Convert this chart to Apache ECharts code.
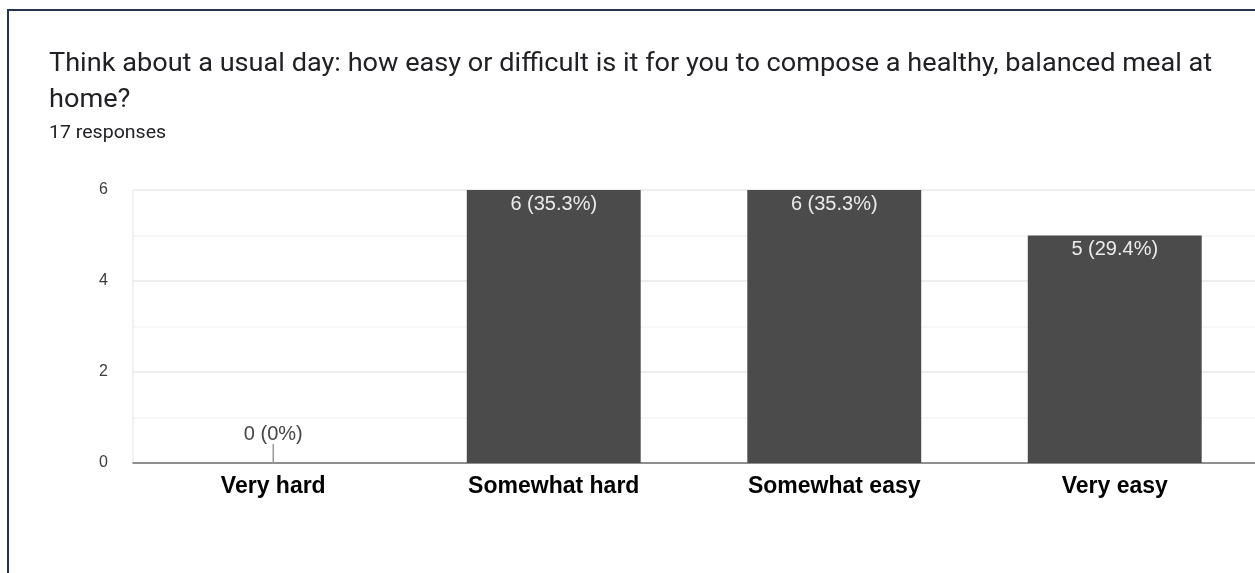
<!DOCTYPE html>
<html>
<head>
<meta charset="utf-8">
<script src="https://cdn.jsdelivr.net/npm/echarts@6/dist/echarts.min.js"></script>
<style>
  html, body { margin: 0; padding: 0; background: #ffffff; }
  #chart { width: 1255px; height: 573px; }
</style>
</head>
<body>
<div id="chart"></div>
<script>
// Survey answers and response counts
const categories = ['Very hard', 'Somewhat hard', 'Somewhat easy', 'Very easy'];
const counts = [0, 6, 6, 5];
const totalResponses = 17;
const yTickLabels = ['0', '', '2', '', '4', '', '6'];

const questionLines = [
  'Think about a usual day: how easy or difficult is it for you to compose a healthy, balanced meal at',
  'home?'
];
const responsesText = totalResponses + ' responses';

function pctLabel(v) {
  const pct = totalResponses ? (v / totalResponses * 100) : 0;
  const s = v === 0 ? '0' : pct.toFixed(1);
  return v + ' (' + s + '%)';
}

const barData = counts.map(function (v) {
  if (v === 0) {
    return {
      value: v,
      label: { position: 'top', distance: 19, color: '#444444' }
    };
  }
  return { value: v };
});

// heading text is slightly widened
const headScale = 1.085;
const headGraphics = [{
  type: 'rect',
  silent: true,
  shape: { x: 8, y: 10, width: 1400, height: 700 },
  style: { fill: 'none', stroke: '#27324f', lineWidth: 2 }
}];
questionLines.forEach(function (line, i) {
  headGraphics.push({
    type: 'text',
    silent: true,
    x: 49,
    y: 65 + i * 36,
    scaleX: headScale,
    style: {
      text: line,
      font: '25px Roboto',
      fill: '#202124',
      verticalAlign: 'middle',
      align: 'left'
    }
  });
});
headGraphics.push({
  type: 'text',
  silent: true,
  x: 49,
  y: 133,
  scaleX: headScale,
  style: {
    text: responsesText,
    font: '18px Roboto',
    fill: '#202124',
    verticalAlign: 'middle',
    align: 'left'
  }
});

const chart = echarts.init(document.getElementById('chart'), null, { renderer: 'canvas' });

chart.setOption({
  animation: false,
  backgroundColor: '#ffffff',
  graphic: headGraphics,
  grid: { left: 133, right: 0, top: 190, bottom: 110, containLabel: false },
  xAxis: {
    type: 'category',
    data: categories,
    axisTick: { show: false },
    axisLine: { show: true, lineStyle: { color: '#707070', width: 1.5 } },
    axisLabel: {
      margin: 12,
      fontFamily: 'Liberation Sans',
      fontWeight: 'bold',
      fontSize: 23,
      color: '#000000'
    },
    splitLine: { show: false }
  },
  yAxis: {
    type: 'value',
    min: 0,
    max: 6,
    interval: 1,
    axisLine: { show: true, lineStyle: { color: '#ececec', width: 1.5 } },
    axisTick: { show: false },
    axisLabel: {
      margin: 25,
      fontFamily: 'Liberation Sans',
      fontSize: 16,
      color: '#3c3c3c',
      formatter: function (v) { return yTickLabels[v] || ''; }
    },
    splitLine: {
      show: true,
      lineStyle: { color: ['#e8e8e8', '#f4f4f4'], width: 1.5 }
    }
  },
  series: [{
    type: 'bar',
    data: barData,
    barWidth: '62%',
    itemStyle: { color: '#4b4b4b' },
    label: {
      show: true,
      position: 'insideTop',
      distance: 4,
      fontFamily: 'Liberation Sans',
      fontSize: 20,
      color: '#ebebeb',
      formatter: function (p) { return pctLabel(p.value); }
    }
  }, {
    // short stem marking a zero-height bar
    type: 'custom',
    silent: true,
    data: counts.map(function (v, i) { return [i, v]; }),
    renderItem: function (params, api) {
      if (api.value(1) !== 0) return null;
      const p = api.coord([api.value(0), 0]);
      return {
        type: 'line',
        shape: { x1: p[0], y1: p[1], x2: p[0], y2: p[1] - 19 },
        style: { stroke: '#9a9a9a', lineWidth: 1.5 }
      };
    },
    z: 3
  }]
});
</script>
</body>
</html>
